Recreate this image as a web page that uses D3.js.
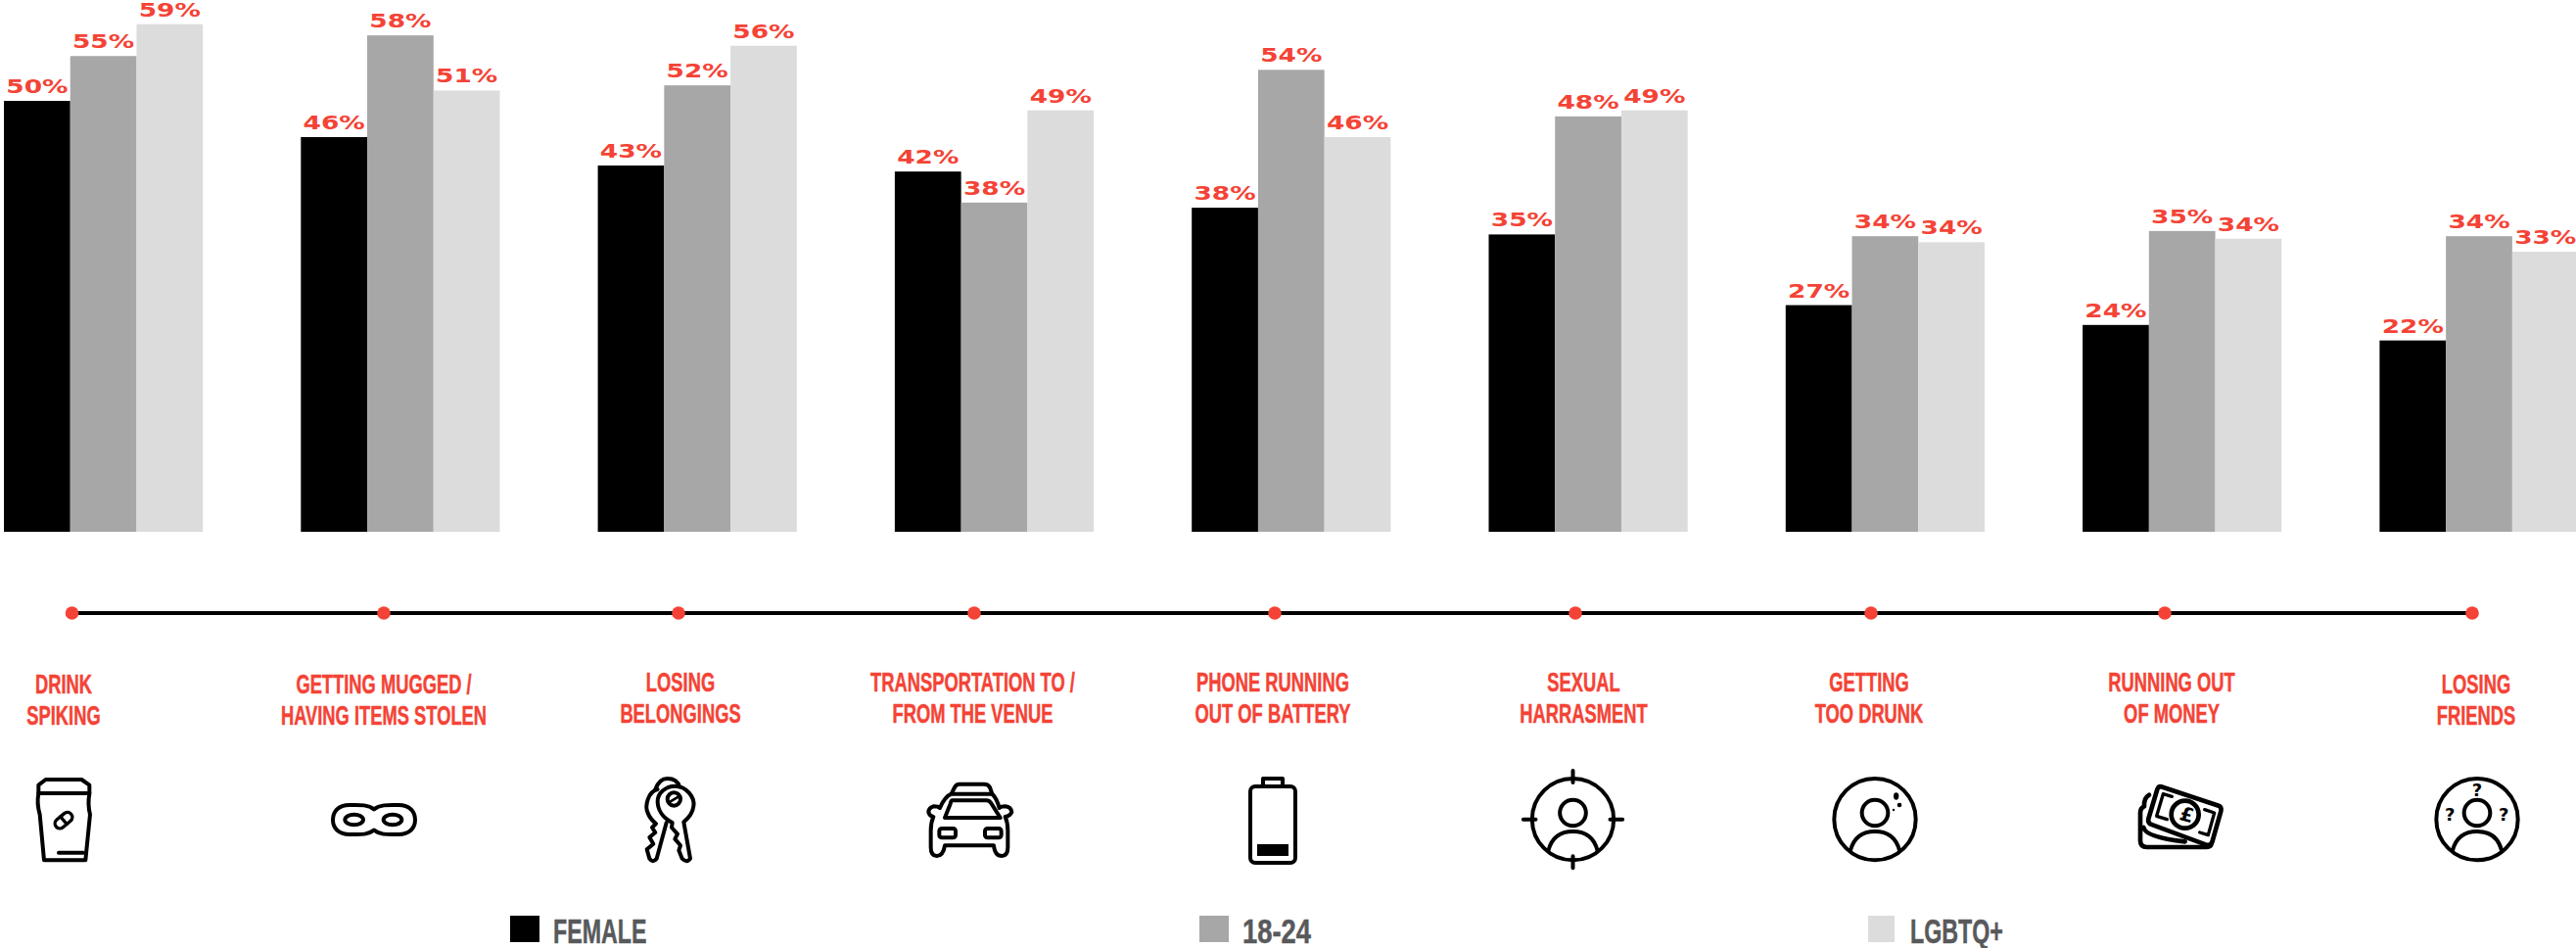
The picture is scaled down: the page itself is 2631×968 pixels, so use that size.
<!DOCTYPE html>
<html><head><meta charset="utf-8">
<script src="https://cdn.jsdelivr.net/npm/d3@7"></script>
<style>html,body{margin:0;padding:0;background:#fff;overflow:hidden}svg{display:block}</style>
</head><body><svg id="c" width="2631" height="968"></svg>
<script>
// ---- data ----
const categories = [["DRINK","SPIKING"],["GETTING MUGGED /","HAVING ITEMS STOLEN"],["LOSING","BELONGINGS"],["TRANSPORTATION TO /","FROM THE VENUE"],["PHONE RUNNING","OUT OF BATTERY"],["SEXUAL","HARRASMENT"],["GETTING","TOO DRUNK"],["RUNNING OUT","OF MONEY"],["LOSING","FRIENDS"]];
const seriesNames = ["FEMALE","18-24","LGBTQ+"];
// printed percentages
const femaleLabels = [50,46,43,42,38,35,27,24,22];
const youngLabels  = [55,58,52,38,54,48,34,35,34];
const lgbtqLabels  = [59,51,56,49,46,49,34,34,33];
// bar lengths
const femaleBars = [50,45.8,42.5,41.8,37.6,34.5,26.3,24,22.2];
const youngBars  = [55.2,57.6,51.8,38.2,53.6,48.2,34.3,34.9,34.3];
const lgbtqBars  = [58.9,51.2,56.4,48.9,45.8,48.9,33.6,34,32.5];

// ---- layout ----
const colors = ["#000000","#a7a7a7","#dcdcdc"], red = "#f44336", legendInk = "#58595b";
const dotX   = [73.5,392,693,995,1302,1609,1911,2211,2525];
const labelX = [65,392,695,993.5,1300,1617.5,1909,2218,2529];
const labelY = [708,708,706,706,706,706,706,706,708];
const legendX = [521,1225,1908], legendTextX=[565,1269,1951], legendW=[30,30,27], legendScale=[0.645,0.76,0.645];
const svg = d3.select("#c");
const idx = d3.range(categories.length);
const x0 = d3.scaleBand().domain(idx).range([4,2633.6]).paddingInner(0.33);
const x1 = d3.scaleBand().domain([0,1,2]).range([0,x0.bandwidth()]);
const y = d3.scaleLinear().domain([0,60]).range([543,15]);
const bars=[femaleBars,youngBars,lgbtqBars], labels=[femaleLabels,youngLabels,lgbtqLabels];
const narrow="'Liberation Sans Narrow','Liberation Sans',sans-serif";

const groups = svg.selectAll("g.grp").data(idx).join("g").attr("class","grp")
  .attr("transform",i=>`translate(${x0(i)},0)`);
groups.selectAll("rect").data(i=>[0,1,2].map(s=>({s,v:bars[s][i]}))).join("rect")
  .attr("x",d=>x1(d.s)).attr("width",x1.bandwidth()).attr("y",d=>y(d.v)).attr("height",d=>y(0)-y(d.v)).attr("fill",d=>colors[d.s]);
groups.selectAll("text").data(i=>[0,1,2].map(s=>({s,v:bars[s][i],l:labels[s][i]}))).join("text")
  .attr("transform",d=>`translate(${x1(d.s)+x1.bandwidth()/2},${y(d.v)-8}) scale(1.39,1)`)
  .attr("text-anchor","middle").attr("font-family","'DejaVu Sans',sans-serif").attr("font-weight",700).attr("font-size",19)
  .attr("fill",red).text(d=>d.l+"%");

// timeline
svg.append("line").attr("x1",dotX[0]).attr("x2",dotX[8]).attr("y1",626).attr("y2",626).attr("stroke","#000").attr("stroke-width",4);
svg.selectAll("circle.stop").data(dotX).join("circle").attr("class","stop").attr("cx",d=>d).attr("cy",626).attr("r",6.8).attr("fill",red);

// category labels
categories.forEach((lines,i)=>lines.forEach((t,k)=>{
  svg.append("text").attr("transform",`translate(${labelX[i]},${labelY[i]+32*k}) scale(0.655,1)`)
    .attr("text-anchor","middle").attr("font-family",narrow).attr("font-weight",700).attr("font-size",28)
    .attr("fill",red).attr("stroke",red).attr("stroke-width",0.5).text(t);
}));

// legend
seriesNames.forEach((n,i)=>{
  svg.append("rect").attr("x",legendX[i]).attr("y",935).attr("width",legendW[i]).attr("height",27).attr("fill",colors[i]);
  svg.append("text").attr("transform",`translate(${legendTextX[i]},963) scale(${legendScale[i]},1)`)
    .attr("font-family",narrow).attr("font-weight",700).attr("font-size",36).attr("fill",legendInk).attr("stroke",legendInk).attr("stroke-width",0.5).text(n);
});

// icons, drawn at 3x and scaled down
function icon(ax,ay){ return svg.append("g").attr("transform",`translate(${ax},${ay}) scale(0.3333)`)
  .attr("fill","none").attr("stroke","#000").attr("stroke-width",12).attr("stroke-linejoin","round").attr("stroke-linecap","round"); }
function person(g){
  g.append("circle").attr("cx",180).attr("cy",155).attr("r",125);
  g.append("circle").attr("cx",180).attr("cy",135).attr("r",40);
  g.append("path").attr("d","M105 250 Q120 192 180 192 Q240 192 255 250");
}
// cup
let g=icon(0,770);
g.append("path").attr("d","M140 78 H250 L274 95 V122 Q268 155 276 185 L262 325 H135 L122 185 Q112 150 118 122 V95 Z");
g.append("path").attr("d","M118 120 H274 M180 302 H255");
g.append("g").attr("transform","translate(195,203) rotate(-40)").call(p=>{
  p.append("rect").attr("x",-30).attr("y",-15).attr("width",60).attr("height",30).attr("rx",15).attr("stroke-width",10);
  p.append("path").attr("d","M0 -15 V15").attr("stroke-width",10);
});
// mask
g=icon(322,785);
g.append("path").attr("d","M180 124 C160 108 130 111 105 111 C70 111 54 132 54 156 C54 182 72 201 105 201 C135 201 160 204 180 188 C200 204 225 201 255 201 C288 201 306 182 306 156 C306 132 290 111 255 111 C230 111 200 108 180 124 Z");
g.append("ellipse").attr("cx",119).attr("cy",156).attr("rx",28).attr("ry",16);
g.append("ellipse").attr("cx",237).attr("cy",156).attr("rx",28).attr("ry",16);
// keys
g=icon(630,780);
g.append("path").attr("d","M118 78 Q130 45 155 45 Q185 45 192 70");
g.append("path").attr("d","M125 78 C95 85 85 130 95 150 C100 165 110 175 120 183 L108 195 L118 210 L100 225 L112 245 L92 262 L100 290 Q110 305 122 290 L152 180");
g.append("path").attr("d","M178 68 C215 68 240 105 235 130 C232 155 215 170 205 178 L225 290 Q215 305 200 290 L190 265 L195 250 L178 230 L186 215 L168 195 L170 180 C140 165 125 140 125 115 C125 90 150 68 178 68 Z");
g.append("ellipse").attr("cx",175).attr("cy",108).attr("rx",20).attr("ry",20);
g.append("path").attr("d","M163 116 L190 100").attr("stroke-width",8);
// car
g=icon(930,780);
g.append("path").attr("d","M125 92 L135 72 Q140 62 150 62 H225 Q238 62 243 72 L250 92 Q264 105 272 135 Q278 130 290 130 Q308 132 310 148 Q305 160 290 162 Q298 180 298 205 V255 Q298 282 280 282 Q258 282 255 250 H105 Q100 282 80 282 Q62 282 62 255 V205 Q62 180 70 162 Q58 160 55 148 Q55 135 70 130 Q85 130 90 135 Q105 100 125 92 Z");
g.append("path").attr("d","M125 92 H250");
g.append("path").attr("d","M128 112 H232 Q242 112 248 122 L275 165 H105 L122 122 Q124 112 128 112 Z");
g.append("rect").attr("x",88).attr("y",198).attr("width",50).attr("height",28).attr("rx",8);
g.append("rect").attr("x",228).attr("y",198).attr("width",50).attr("height",28).attr("rx",8);
// battery
g=icon(1270,785);
g.append("rect").attr("x",21).attr("y",54).attr("width",138).attr("height",234).attr("rx",15);
g.append("path").attr("d","M60 54 V30 H120 V54");
g.append("rect").attr("x",42).attr("y",231).attr("width",96).attr("height",36).attr("fill","#000").attr("stroke","none");
// target
g=icon(1546.5,785);
person(g);
g.append("path").attr("d","M180 6 V42 M180 268 V304 M28 155 H66 M294 155 H332");
// drunk
g=icon(1855,785);
person(g);
g.append("g").attr("fill","#000").attr("stroke","none").call(p=>{
  p.append("ellipse").attr("cx",245).attr("cy",84).attr("rx",8).attr("ry",11);
  p.append("circle").attr("cx",255).attr("cy",111).attr("r",7);
  p.append("circle").attr("cx",237).attr("cy",126).attr("r",3.5);
});
// money
g=icon(2150,780);
g.attr("stroke-width",14);
g.append("path").attr("d","M172 70 L348 128 Q358 132 355 145 L328 240 Q322 252 310 248 L140 185 Q130 180 133 168 L160 78 Q164 68 172 70 Z");
g.append("circle").attr("cx",245).attr("cy",155).attr("r",42);
g.append("path").attr("d","M205 100 L178 92 L158 160 L190 170 M290 210 L316 218 L335 150 L305 140").attr("stroke-width",10);
g.append("path").attr("d","M135 95 Q118 105 120 130 Q108 135 108 150 V235 Q108 255 128 255 H310 Q322 255 325 248 M118 195 Q125 225 245 238");
g.append("text").attr("transform","translate(245,176) rotate(15)").attr("text-anchor","middle").attr("font-family","'DejaVu Sans',sans-serif").attr("font-weight",700).attr("font-size",60).attr("fill","#000").attr("stroke","none").text("£");
// friends
g=icon(2470,785);
person(g);
[[180,84],[97,158],[262,158]].forEach(q=>{
  g.append("text").attr("x",q[0]).attr("y",q[1]).attr("text-anchor","middle").attr("font-family","'DejaVu Sans',sans-serif").attr("font-weight",700).attr("font-size",54).attr("fill","#000").attr("stroke","none").text("?");
});
</script></body></html>
